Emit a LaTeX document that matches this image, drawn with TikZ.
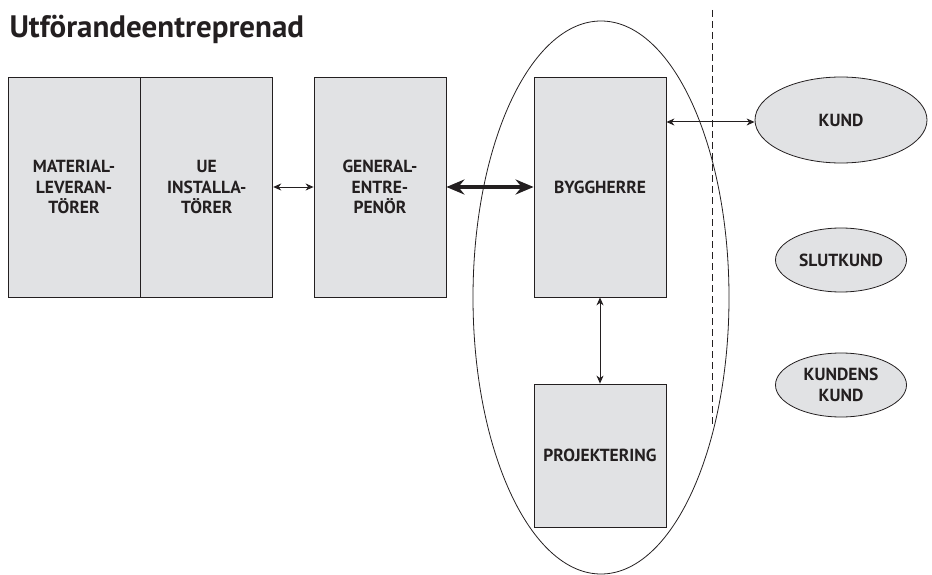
\documentclass[tikz,border=0pt]{standalone}
\usepackage{fontspec}
\setmainfont{PT Sans}
\usepackage{tikz}
\usetikzlibrary{arrows.meta,positioning,shapes.geometric}
\definecolor{Ink}{HTML}{231F20}
\definecolor{Pale}{HTML}{E1E2E4}

\begin{document}
\begin{tikzpicture}[x=1pt,y=-1pt,
  every node/.style={font=\bfseries\fontsize{17.5}{20.5}\selectfont,align=center,text=Ink},
  box/.style={draw=Ink,line width=0.8pt,fill=Pale,minimum width=132pt,minimum height=220pt,inner sep=0pt},
  oval/.style={ellipse,draw=Ink,line width=0.8pt,fill=Pale,minimum width=131pt,minimum height=64pt,inner sep=0pt},
  arr/.style={{Stealth[length=8pt,width=7pt,inset=2.5pt]}-{Stealth[length=8pt,width=7pt,inset=2.5pt]},line width=1pt,Ink},
  bigarr/.style={{Stealth[length=18pt,width=15pt,inset=6pt]}-{Stealth[length=18pt,width=15pt,inset=6pt]},line width=3.5pt,Ink}
]
\useasboundingbox (0,0) rectangle (932,575);
\node[anchor=base west,font=\bfseries\fontsize{31}{33}\selectfont] (title) at (6,38) {Utförandeentreprenad};
% leverantörer och installatörer
\node[box] (mat) at (74,187) {MATERIAL-\\LEVERAN-\\TÖRER};
\node[box,right=0pt of mat] (ue) {UE\\INSTALLA-\\TÖRER};
\node[box] (ge) at (380,187) {GENERAL-\\ENTRE-\\PENÖR};
% beställarsidan
\node[draw=Ink,line width=0.8pt,ellipse,minimum width=256pt,minimum height=553pt] (grp) at (601,297.5) {};
\node[box] (bh) at (600,187) {BYGGHERRE};
\node[box,minimum height=143pt] (proj) at (600,455.5) {PROJEKTERING};
\coordinate (gtop) at (712,10);
\coordinate (gbot) at (712,427);
\draw[Ink,line width=1pt,dash pattern=on 7pt off 4pt] (gtop) -- (gbot);
% kunder
\node[oval,minimum width=172pt,minimum height=86pt] (kund) at (841,120) {KUND};
\node[oval] (slut) at (841,260) {SLUTKUND};
\node[oval] (kk) at (841,385) {KUNDENS\\KUND};
\draw[arr] (ue.east) -- (ge.west);
\draw[bigarr] (ge.east) -- (bh.west);
\draw[arr] (bh.east |- 0,122) -- (kund.west |- 0,122);
\draw[arr] (bh.south) -- (proj.north);
\end{tikzpicture}
\end{document}
